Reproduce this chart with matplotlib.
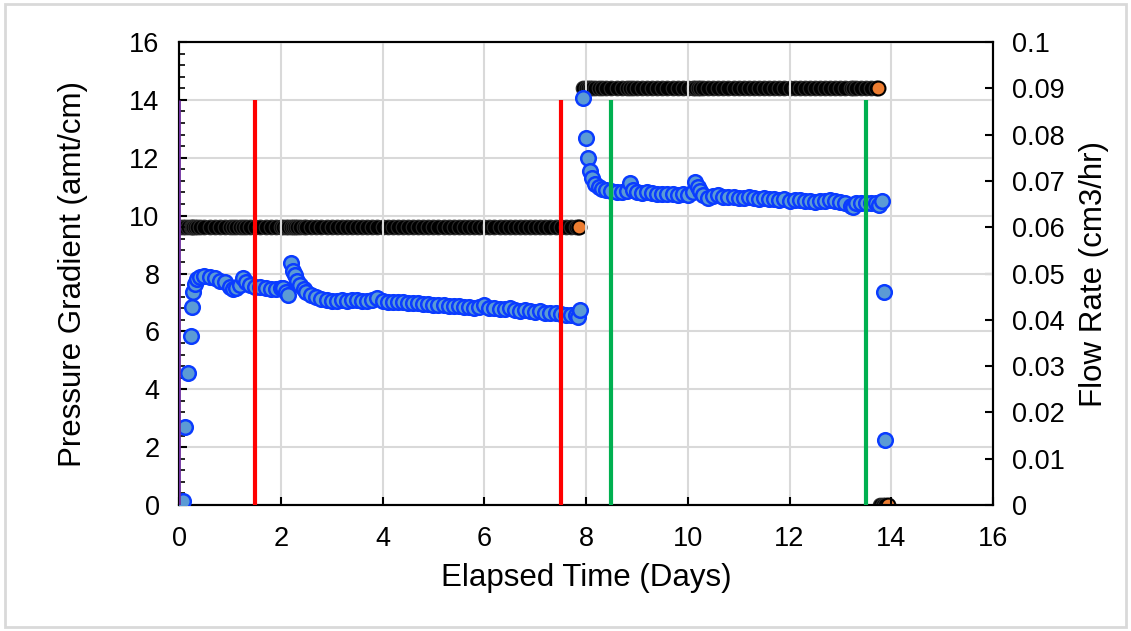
import matplotlib.pyplot as plt
from matplotlib.ticker import MultipleLocator
from matplotlib.patches import Rectangle

plt.rcParams['font.family'] = ['Liberation Sans', 'DejaVu Sans']

# pressure gradient readings, first flow step
time_a = [0.02, 0.08, 0.12, 0.18, 0.23, 0.25, 0.28, 0.32, 0.36, 0.42, 0.5, 0.6,
          0.7, 0.8, 0.9, 1.0, 1.06, 1.12, 1.2, 1.26, 1.32, 1.4, 1.5, 1.6, 1.7,
          1.8, 1.9, 2.0, 2.05, 2.1, 2.15, 2.2, 2.24, 2.28, 2.32, 2.38, 2.45,
          2.5, 2.6, 2.7, 2.8, 2.9, 3.0, 3.1, 3.2, 3.3, 3.4, 3.5, 3.6, 3.7,
          3.8, 3.9, 4.0, 4.1, 4.2, 4.3, 4.4, 4.5, 4.6, 4.7, 4.8, 4.9, 5.0,
          5.1, 5.2, 5.3, 5.4, 5.5, 5.6, 5.7, 5.8, 5.9, 6.0, 6.1, 6.2, 6.3,
          6.4, 6.5, 6.6, 6.7, 6.8, 6.9, 7.0, 7.1, 7.2, 7.3, 7.4, 7.5, 7.6,
          7.7, 7.8, 7.85, 7.88]
press_a = [0.10, 0.15, 2.7, 4.55, 5.85, 6.85, 7.35, 7.65, 7.8, 7.88, 7.9, 7.88,
           7.85, 7.75, 7.7, 7.55, 7.45, 7.5, 7.6, 7.85, 7.7, 7.6, 7.55, 7.52, 7.5,
           7.48, 7.45, 7.5, 7.5, 7.35, 7.25, 8.35, 8.1, 7.95, 7.75, 7.6, 7.45,
           7.35, 7.25, 7.18, 7.12, 7.08, 7.06, 7.05, 7.07, 7.06, 7.08, 7.1, 7.06, 7.05,
           7.07, 7.15, 7.06, 7.03, 7.02, 7.03, 7.0, 6.98, 6.97, 6.98, 6.95, 6.96, 6.92,
           6.9, 6.9, 6.88, 6.86, 6.87, 6.85, 6.84, 6.82, 6.83, 6.9, 6.8, 6.8, 6.78,
           6.76, 6.8, 6.75, 6.72, 6.74, 6.7, 6.68, 6.7, 6.65, 6.64, 6.62, 6.6, 6.58,
           6.56, 6.55, 6.48, 6.75]

# second flow step
time_b = [7.94, 8.0, 8.03, 8.07, 8.12, 8.18, 8.25, 8.32, 8.4, 8.5, 8.6, 8.7,
          8.8, 8.86, 8.92, 9.0, 9.1, 9.2, 9.3, 9.4, 9.5, 9.6, 9.7, 9.8, 9.9,
          10.0, 10.1, 10.15, 10.2, 10.25, 10.3, 10.4, 10.5, 10.6, 10.7, 10.8,
          10.9, 11.0, 11.1, 11.2, 11.3, 11.4, 11.5, 11.6, 11.7, 11.8, 11.9,
          12.0, 12.1, 12.2, 12.3, 12.4, 12.5, 12.6, 12.7, 12.8, 12.9, 13.0,
          13.1, 13.2, 13.25, 13.3, 13.4, 13.5, 13.6, 13.7, 13.76, 13.81,
          13.86, 13.88]
press_b = [14.05, 12.7, 12.0, 11.55, 11.3, 11.1, 11.0, 10.92, 10.88, 10.85, 10.83, 10.82,
           10.85, 11.12, 10.9, 10.8, 10.78, 10.8, 10.78, 10.75, 10.76, 10.74, 10.75, 10.73, 10.74,
           10.72, 10.8, 11.15, 11.0, 10.85, 10.7, 10.62, 10.68, 10.7, 10.66, 10.64,
           10.65, 10.62, 10.6, 10.66, 10.6, 10.58, 10.6, 10.57, 10.58, 10.55, 10.56,
           10.52, 10.55, 10.53, 10.52, 10.5, 10.48, 10.5, 10.52, 10.55, 10.5, 10.48,
           10.45, 10.35, 10.3, 10.42, 10.45, 10.44, 10.43, 10.42, 10.38, 10.5,
           7.35, 2.25]

# flow rate steps (cm3/hr)
flow_time_a = time_a[:-1]
flow_a = [0.06] * len(flow_time_a)
flow_time_b = [t for t in time_b if t <= 13.7]
flow_b = [0.09] * len(flow_time_b)
flow_time_c = [13.78, 13.83, 13.88]
flow_c = [0.0, 0.0, 0.0]
end_time = [0.0, 7.86, 13.73, 13.93]
end_flow = [0.0, 0.06, 0.09, 0.0]

# step markers (time, colour, width)
step_lines = [(0.0, '#7030A0', 2.0), (1.5, '#FF0000', 3.0), (7.5, '#FF0000', 3.0),
              (8.5, '#00B050', 3.0), (13.5, '#00B050', 3.0)]
step_top = 14

fig = plt.figure(figsize=(11.31, 6.31), dpi=100)
fig.patches.append(Rectangle((0.004, 0.006), 0.992, 0.988, transform=fig.transFigure,
                             fill=False, edgecolor='#d9d9d9', linewidth=2))
sp = fig.add_axes([0.1583, 0.1997, 0.7197, 0.7337])
sp2 = sp.twinx()

blue = dict(ls='none', marker='o', ms=10.5, mfc='#5B9BD5', mec='#0A3CFF', mew=1.8)
sp.plot(time_a, press_a, zorder=3, **blue)
sp.plot(time_b, press_b, zorder=3, **blue)
for t, c, lw in step_lines:
    sp.plot([t, t], [0, step_top], color=c, lw=lw, zorder=4, solid_capstyle='butt')

black = dict(ls='none', marker='o', ms=10.5, mfc='black', mec='#2b2b2b', mew=0.8)
sp2.plot(flow_time_a, flow_a, **black)
sp2.plot(flow_time_b, flow_b, **black)
sp2.plot(flow_time_c, flow_c, **black)
sp2.plot(end_time, end_flow, ls='none', marker='o', ms=10, mfc='#ED7D31', mec='black', mew=1.5)

sp.set_zorder(sp2.get_zorder() + 1)
sp.patch.set_visible(False)

sp.set_xlim(0, 16)
sp.set_ylim(0, 16)
sp2.set_ylim(0, 0.1)
sp.xaxis.set_major_locator(MultipleLocator(2))
sp.yaxis.set_major_locator(MultipleLocator(2))
sp.yaxis.set_minor_locator(MultipleLocator(0.4))
sp2.yaxis.set_major_locator(MultipleLocator(0.01))
sp2.set_yticklabels(['%g' % round(v, 2) for v in sp2.get_yticks()])
sp.grid(True, color='#d9d9d9', lw=1.5)
sp.set_axisbelow(True)
for ax in sp, sp2:
    ax.tick_params(which='major', direction='in', length=6, width=1.5, labelsize=19.5, pad=14)
    ax.tick_params(which='minor', direction='in', length=4, width=1.2)
    for s in ax.spines.values():
        s.set_linewidth(1.5)
sp.tick_params(axis='x', pad=15)

sp.set_xlabel('Elapsed Time (Days)', fontsize=22.5, labelpad=8)
sp.set_ylabel('Pressure Gradient (amt/cm)', fontsize=22.5, labelpad=30)
sp2.set_ylabel('Flow Rate (cm3/hr)', fontsize=22.5, labelpad=10)

fig.savefig('out.png', dpi=100)
